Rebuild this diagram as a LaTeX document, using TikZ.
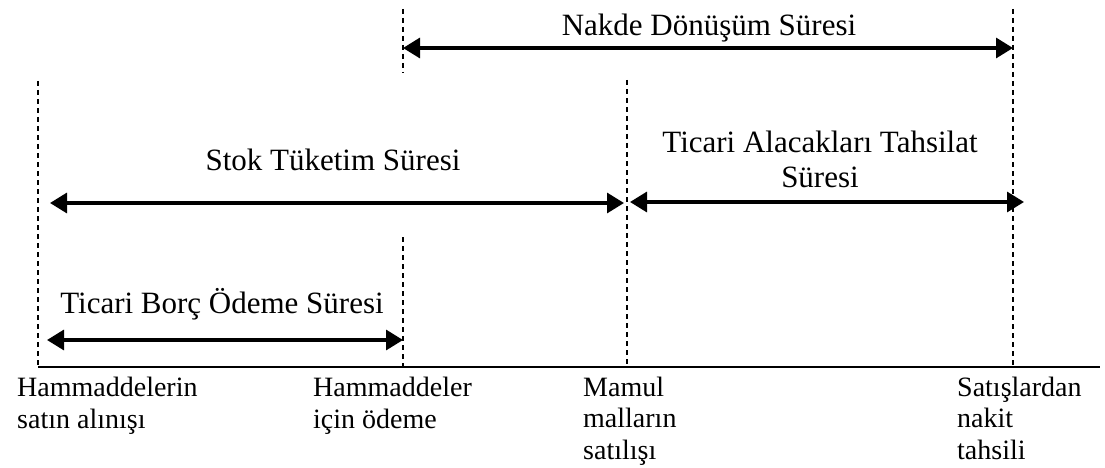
\documentclass[tikz,border=0pt]{standalone}
\usepackage{fontspec}
\setmainfont{Liberation Serif}
\usetikzlibrary{arrows.meta}
\begin{document}
\begin{tikzpicture}[x=1pt,y=-1pt,
  guide/.style={line width=1.6pt,dash pattern=on 5pt off 4pt},
  span/.style={line width=3.2pt,{Triangle[length=17pt,width=20pt]}-{Triangle[length=17pt,width=20pt]}},
  axisline/.style={line width=2pt},
  title/.style={font=\fontsize{31}{35}\selectfont,anchor=base,inner sep=0pt,align=center},
  event/.style={font=\fontsize{28}{31.5}\selectfont,anchor=base west,inner sep=0pt,align=left}]
\useasboundingbox (0,0) rectangle (1105,468);
% axis and guide lines
\coordinate (ax0) at (38,367);
\coordinate (ax1) at (1100,367);
\coordinate (gA) at (38,81);
\coordinate (gB1) at (403,9);
\coordinate (gB2) at (403,73);
\coordinate (gB3) at (403,237);
\coordinate (gBb) at (403,367);
\coordinate (gC) at (627,80);
\coordinate (gCb) at (627,367);
\coordinate (gD) at (1013,9);
\coordinate (gDb) at (1013,367);
\draw[guide] (gA) -- (ax0);
\draw[guide] (gB1) -- (gB2);
\draw[guide] (gB3) -- (gBb);
\draw[guide] (gC) -- (gCb);
\draw[guide] (gD) -- (gDb);
\draw[axisline] (ax0) -- (ax1);
% arrows
\coordinate (n0) at (403,48);
\coordinate (n1) at (1013,48);
\coordinate (s0) at (50,203);
\coordinate (s1) at (624,203);
\coordinate (t0) at (630,202);
\coordinate (t1) at (1024,202);
\coordinate (b0) at (47,340);
\coordinate (b1) at (403,340);
\draw[span] (n0) -- (n1);
\draw[span] (s0) -- (s1);
\draw[span] (t0) -- (t1);
\draw[span] (b0) -- (b1);
% titles (base anchor = baseline of last line)
\node[title] (nakde) at (709,36) {Nakde Dönüşüm Süresi};
\node[title] (stok) at (333,170) {Stok Tüketim Süresi};
\node[title] (alacak) at (820,187) {Ticari Alacakları Tahsilat\\Süresi};
\node[title] (borc) at (222,313) {Ticari Borç Ödeme Süresi};
% events
\node[event] (e1) at (17,428) {Hammaddelerin\\satın alınışı};
\node[event] (e2) at (313,428) {Hammaddeler\\için ödeme};
\node[event] (e3) at (583,459) {Mamul\\malların\\satılışı};
\node[event] (e4) at (957,459) {Satışlardan\\nakit\\tahsili};
\end{tikzpicture}
\end{document}
